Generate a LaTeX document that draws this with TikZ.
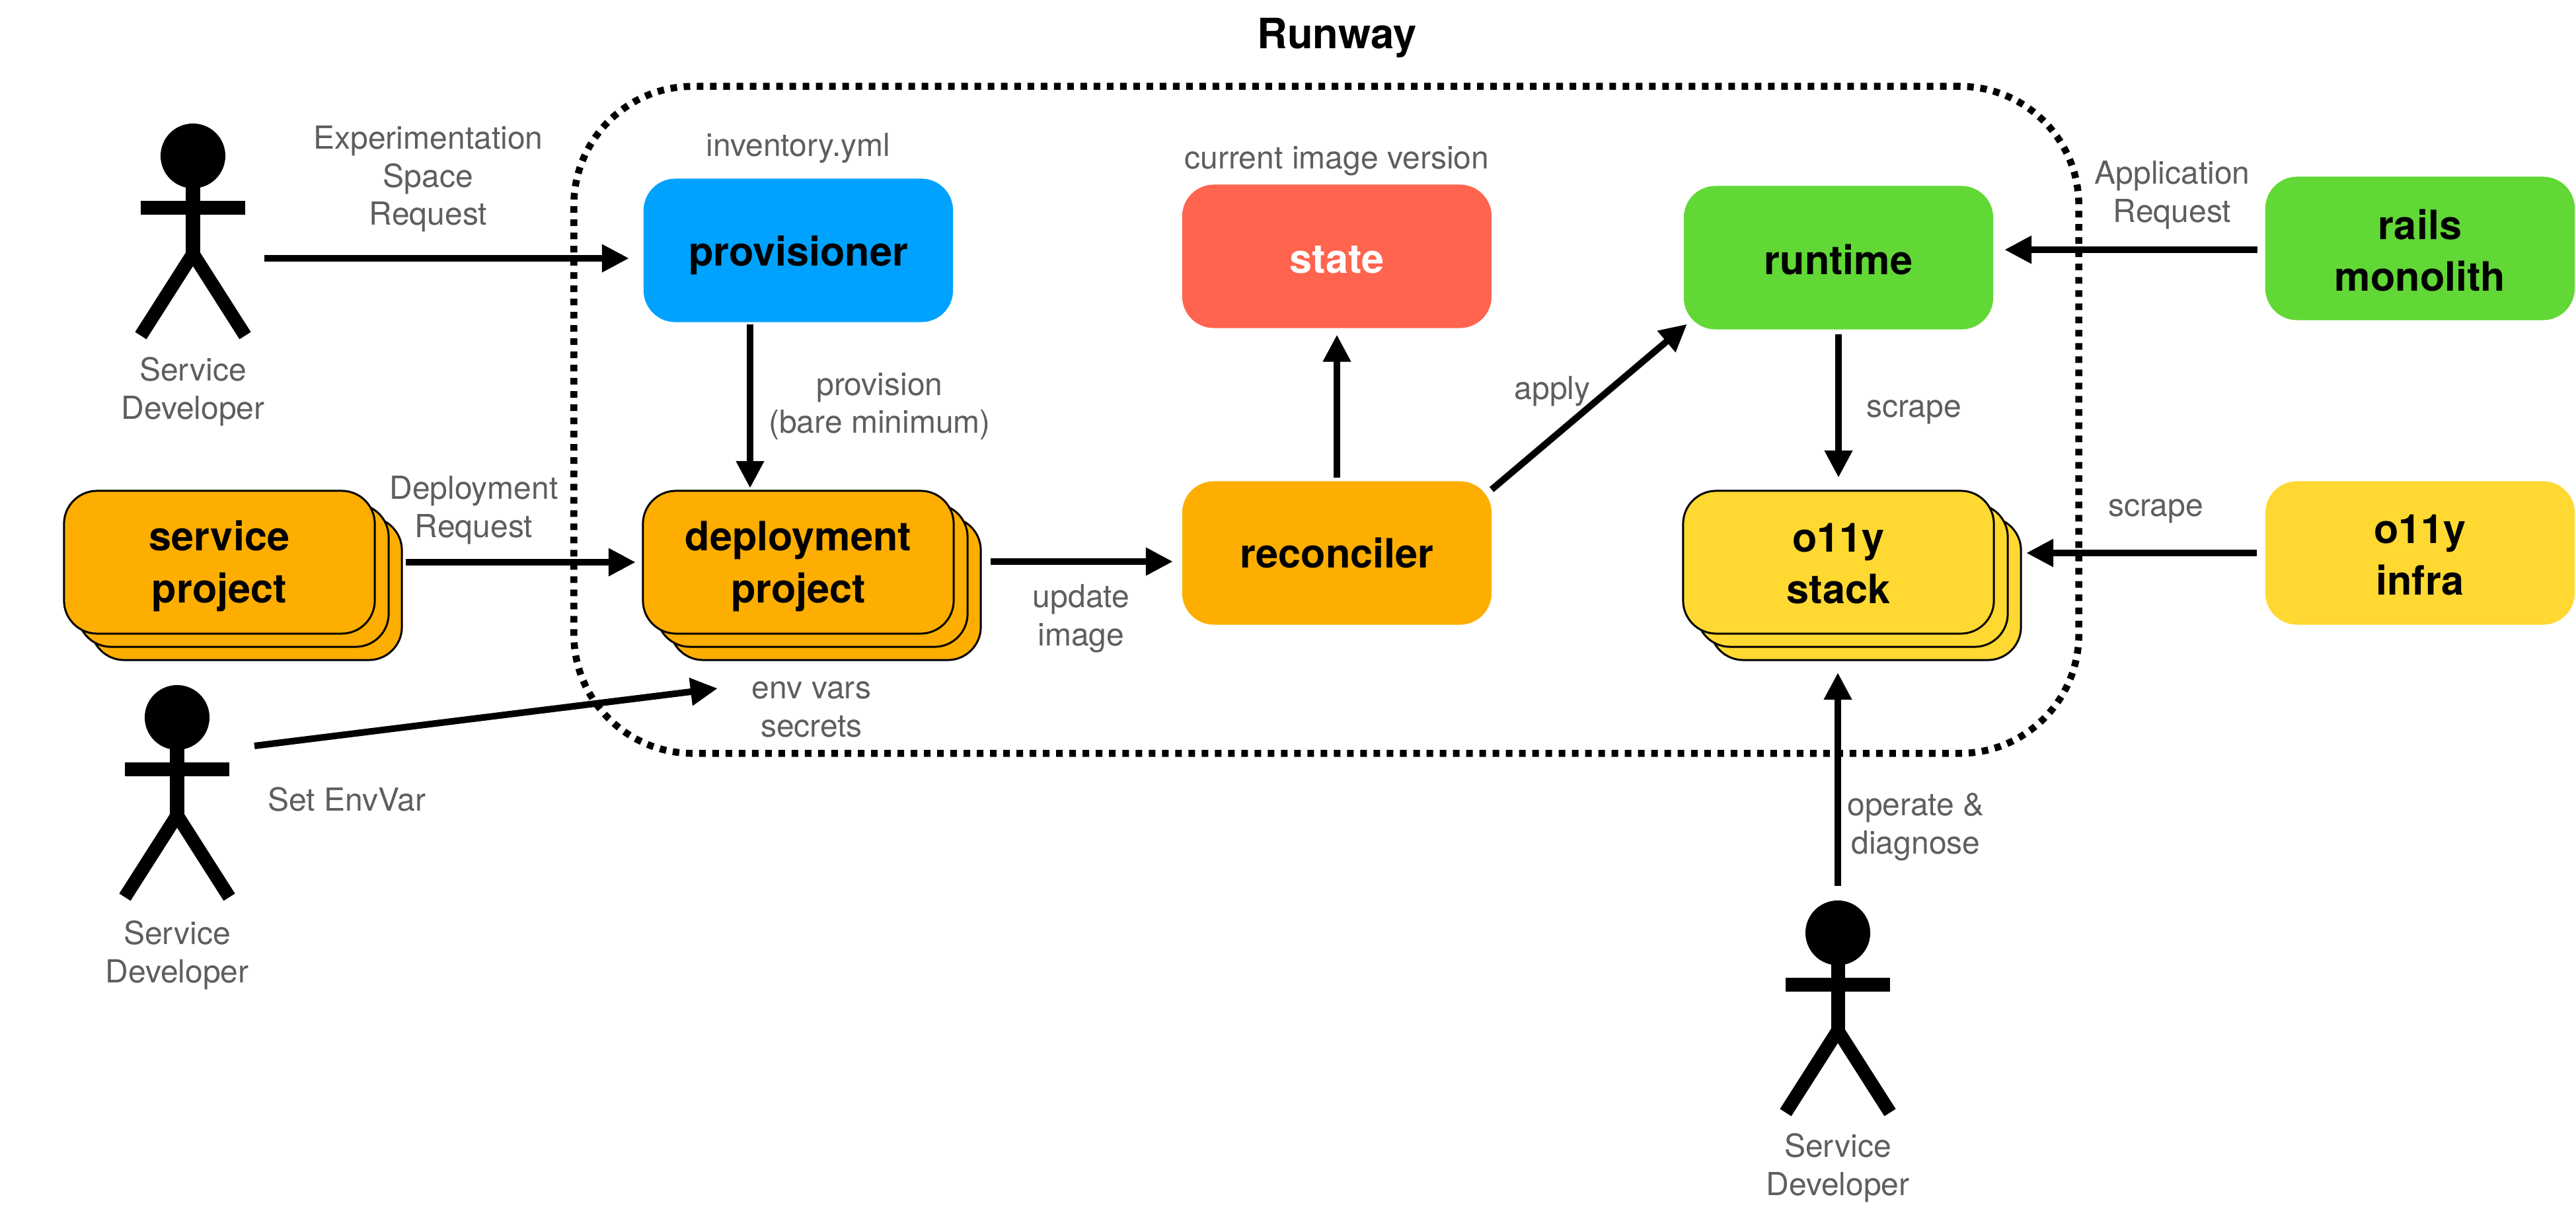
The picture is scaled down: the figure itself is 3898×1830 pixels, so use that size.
\documentclass[tikz,border=0pt]{standalone}
\usepackage{fontspec}
\setmainfont{TeX Gyre Heros}
\usetikzlibrary{arrows.meta,calc}
\definecolor{cblue}{HTML}{00A2FF}
\definecolor{cred}{HTML}{FF644E}
\definecolor{cgreen}{HTML}{61D836}
\definecolor{corange}{HTML}{FEAE00}
\definecolor{cyellow}{HTML}{FFD932}
\definecolor{cgray}{HTML}{5E5E5E}
\newcommand{\dn}[2]{\raisebox{-#1mm}[\height][\depth]{#2}}
\tikzset{
  boxnode/.style={rectangle,rounded corners=4.8mm,minimum width=46.8mm,minimum height=21.7mm,inner sep=0pt,outer sep=0pt,align=center,font=\fontsize{17.4}{22.4}\selectfont\bfseries},
  stacknode/.style={boxnode,draw=black,line width=0.3mm,rounded corners=5mm,minimum width=47mm,minimum height=21.6mm},
  lbl/.style={inner sep=0pt,outer sep=0pt,align=center,text=cgray,font=\fontsize{13.66}{16.4}\selectfont},
  arr/.style={draw=black,line width=1mm,-{Triangle[length=4.1mm,width=4mm]}},
  headnode/.style={circle,fill=black,minimum size=9.8mm,inner sep=0pt,outer sep=0pt},
  runwaybox/.style={rectangle,draw=black,line width=1.05mm,dash pattern=on 1mm off 1mm,rounded corners=18mm,minimum width=227.6mm,minimum height=100.9mm,inner sep=0pt,outer sep=0pt}
}
\newcommand{\stickman}[3]{%
  \node[headnode] (#1) at (#2,#3) {};
  \begin{scope}[shift={(#2,#3)}]
    \draw[line width=2.1mm] (0,45) -- (0,150);
    \fill[black] (-79,67.5) rectangle (79,88.5);
    \draw[line width=2.03mm,miter limit=10] (-79,272) -- (0,148) -- (79,272);
  \end{scope}}
\begin{document}
\begin{tikzpicture}[x=0.01cm,y=-0.01cm]
\path[fill=white,use as bounding box] (0,0) rectangle (3898,1830);

\node[runwaybox] (runway) at (2007,635.5) {};
\node[inner sep=0pt,outer sep=0pt,font=\fontsize{18}{22}\selectfont\bfseries] (title) at (2023,57) {Runway};

% plain boxes
\node[boxnode,fill=cblue] (prov) at (1208,379) {\dn{0.7}{provisioner}};
\node[boxnode,fill=cred,text=white] (state) at (2023,388) {\dn{0.5}{state}};
\node[boxnode,fill=cgreen] (runtime) at (2782,390) {\dn{0.3}{runtime}};
\node[boxnode,fill=cgreen] (rails) at (3662,376) {\dn{0.3}{rails}\\\dn{0.3}{monolith}};
\node[boxnode,fill=corange] (recon) at (2023,837) {reconciler};
\node[boxnode,fill=cyellow] (infra) at (3662,837) {\dn{0.3}{o11y}\\\dn{0.3}{infra}};

% stacks
\node[stacknode,fill=corange] (svcB) at (373,891) {};
\node[stacknode,fill=corange] (svcM) at (353,871) {};
\node[stacknode,fill=corange] (svc) at (332,851) {\dn{0.6}{service}\\\dn{0.6}{project}};
\node[stacknode,fill=corange] (depB) at (1249,891) {};
\node[stacknode,fill=corange] (depM) at (1229,871) {};
\node[stacknode,fill=corange] (dep) at (1208,851) {\dn{0.6}{deployment}\\\dn{0.6}{project}};
\node[stacknode,fill=cyellow] (obsB) at (2823,891) {};
\node[stacknode,fill=cyellow] (obsM) at (2803,871) {};
\node[stacknode,fill=cyellow] (obs) at (2782,851) {\dn{0.2}{o11y}\\\dn{0.2}{stack}};

% actors
\stickman{actorA}{292}{236}
\stickman{actorB}{268}{1086}
\stickman{actorC}{2781}{1412}

% labels
\node[lbl] (lExp) at (648,271) {Experimentation\\Space\\Request};
\node[lbl] (lInv) at (1208,224) {inventory.yml};
\node[lbl] (lCur) at (2023,244) {current image version};
\node[lbl] (lApp) at (3287,295) {Application\\Request};
\node[lbl] (lProv) at (1331,615) {provision\\(bare minimum)};
\node[lbl] (lScr) at (2896,624) {scrape};
\node[lbl] (lApply) at (2349,592) {apply};
\node[lbl] (lDevA) at (292,593) {Service\\Developer};
\node[lbl] (lDep) at (717,772) {Deployment\\Request};
\node[lbl] (lUpd) at (1636,936) {update\\image};
\node[lbl] (lScrB) at (3262,774) {scrape};
\node[lbl] (lEnv) at (1228,1074) {env vars\\secrets};
\node[lbl] (lSet) at (525,1210) {Set EnvVar};
\node[lbl] (lDevB) at (268,1446) {Service\\Developer};
\node[lbl] (lOp) at (2899,1252) {operate \&\\diagnose};
\node[lbl] (lDevC) at (2781,1768) {Service\\Developer};

% connectors
\draw[arr] ([shift={(108,155)}]actorA.center) -- ([shift={(-22,12)}]prov.west);
\draw[arr] ([shift={(-73,3)}]prov.south) -- ([shift={(-73,-4)}]dep.north);
\draw[arr] ([shift={(26,-20)}]svcM.east) -- ([shift={(-11,0)}]dep.west);
\draw[arr] ([shift={(117,43)}]actorB.center) -- ([shift={(-142,-32)}]lEnv.center);
\draw[arr] ([shift={(35,-21)}]depM.east) -- ([shift={(-14,13)}]recon.west);
\draw[arr] ([shift={(0,-5)}]recon.north) -- ([shift={(0,10)}]state.south);
\draw[arr] ([shift={(0,-96)}]recon.east) -- ([shift={(5,-8)}]runtime.south west);
\draw[arr] ([shift={(0,7)}]runtime.south) -- ([shift={(0,-20)}]obs.north);
\draw[arr] ([shift={(-12,2)}]rails.west) -- ([shift={(17,-12)}]runtime.east);
\draw[arr] ([shift={(-13,0)}]infra.west) -- ([shift={(28,-34)}]obsM.east);
\draw[arr] ([shift={(0,-71)}]actorC.center) -- ([shift={(-1,59)}]obs.south);
\end{tikzpicture}
\end{document}
